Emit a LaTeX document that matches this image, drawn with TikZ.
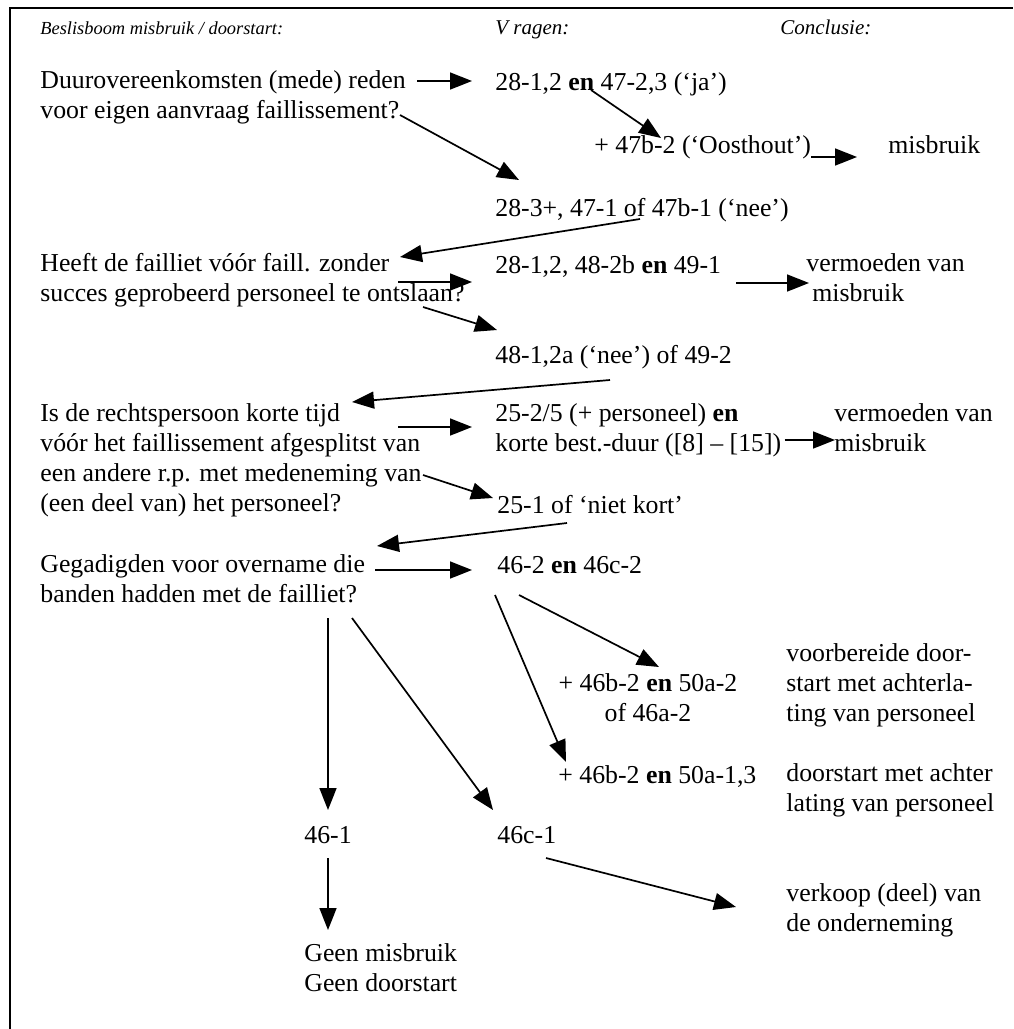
\documentclass[tikz,border=0pt]{standalone}
\usepackage{fontspec}
\setmainfont{Liberation Serif}
\usetikzlibrary{arrows.meta}
\begin{document}
\begin{tikzpicture}
    [
        x=0.5pt, y=-0.5pt,
        txt/.style={inner sep=0pt, anchor=west, align=left, font=\fontsize{12.9}{15}\selectfont,
            execute at begin node=\strut, execute at end node=\strut},
        hdr/.style={inner sep=0pt, anchor=base west, font=\fontsize{10.5}{13}\selectfont\itshape},
        arr/.style={-{Triangle[length=11pt,width=8.5pt]}, line width=0.85pt},
    ]
    \useasboundingbox (0,0) rectangle (1013,1029);
    \draw [line width=1pt] (10,1029) -- (10,8) -- (1013,8);
    % headings
    \node (hdA) at (40,34) [hdr, font=\fontsize{9.2}{11}\selectfont\itshape] {Beslisboom misbruik / doorstart:};
    \node (hdB) at (495,34) [hdr] {V ragen:};
    \node (hdC) at (780,34) [hdr] {Conclusie:};
    % questions
    \node (q1) at (40,99) [txt] {Duurovereenkomsten (mede) reden\\voor eigen aanvraag faillissement?};
    \node (q2) at (40,282) [txt] {Heeft de failliet vóór faill. zonder\\succes geprobeerd personeel te ontslaan?};
    \node (q3) at (40,462) [txt] {Is de rechtspersoon korte tijd\\vóór het faillissement afgesplitst van\\een andere r.p. met medeneming van\\(een deel van) het personeel?};
    \node (q4) at (40,583) [txt] {Gegadigden voor overname die\\banden hadden met de failliet?};
    % articles
    \node (v1a) at (495,84) [txt] {28-1,2 \textbf{en} 47-2,3 (‘ja’)};
    \node (v1b) at (594,147) [txt] {+ 47b-2 (‘Oosthout’)};
    \node (v1c) at (495,210) [txt] {28-3+, 47-1 of 47b-1 (‘nee’)};
    \node (v2a) at (495,267) [txt] {28-1,2, 48-2b \textbf{en} 49-1};
    \node (v2b) at (495,357) [txt] {48-1,2a (‘nee’) of 49-2};
    \node (v3a) at (495,432) [txt] {25-2/5 (+ personeel) \textbf{en}\\korte best.-duur ([8] – [15])};
    \node (v3b) at (497,507) [txt] {25-1 of ‘niet kort’};
    \node (v4a) at (497,567) [txt] {46-2 \textbf{en} 46c-2};
    \node (v4b) at (648,702) [txt, anchor=center, align=center] {+ 46b-2 \textbf{en} 50a-2\\of 46a-2};
    \node (v4c) at (558,777) [txt] {+ 46b-2 \textbf{en} 50a-1,3};
    \node (n461) at (304,837) [txt] {46-1};
    \node (n46c1) at (497,837) [txt] {46c-1};
    % conclusions
    \node (c1) at (888,147) [txt] {misbruik};
    \node (c2) at (806,282) [txt] {vermoeden van\\\hspace*{3pt}misbruik};
    \node (c3) at (834,432) [txt] {vermoeden van\\misbruik};
    \node (c4) at (786,687) [txt] {voorbereide door-\\start met achterla-\\ting van personeel};
    \node (c5) at (786,792) [txt] {doorstart met achter\\lating van personeel};
    \node (c6) at (786,912) [txt] {verkoop (deel) van\\de onderneming};
    \node (c7) at (304,972) [txt] {Geen misbruik\\Geen doorstart};
    % arrows
    \draw [arr] ([shift={(377,-18)}]q1.west) -- ([shift={(-23,-3)}]v1a.west);
    \draw [arr] ([shift={(96,6)}]v1a.west) -- ([shift={(67,-9)}]v1b.west);
    \draw [arr] ([shift={(217,10)}]v1b.west) -- ([shift={(-31,10)}]c1.west);
    \draw [arr] ([shift={(360,16)}]q1.west) -- ([shift={(24,-30)}]v1c.west);
    \draw [arr] ([shift={(145,9)}]v1c.west) -- ([shift={(360,-25)}]q2.west);
    \draw [arr] ([shift={(358,0)}]q2.west) -- ([shift={(-23,15)}]v2a.west);
    \draw [arr] ([shift={(383,25)}]q2.west) -- ([shift={(2,-27)}]v2b.west);
    \draw [arr] ([shift={(241,16)}]v2a.west) -- ([shift={(3,1)}]c2.west);
    \draw [arr] ([shift={(115,23)}]v2b.west) -- ([shift={(312,-60)}]q3.west);
    \draw [arr] ([shift={(358,-35)}]q3.west) -- ([shift={(-23,-5)}]v3a.west);
    \draw [arr] ([shift={(3,8)}]v3a.east) -- ([shift={(1,8)}]c3.west);
    \draw [arr] ([shift={(383,13)}]q3.west) -- ([shift={(-4,-9)}]v3b.west);
    \draw [arr] ([shift={(70,16)}]v3b.west) -- ([shift={(337,-37)}]q4.west);
    \draw [arr] ([shift={(335,-13)}]q4.west) -- ([shift={(-25,3)}]v4a.west);
    \draw [arr] ([shift={(22,28)}]v4a.west) -- ([shift={(11,-35)}]v4b.center);
    \draw [arr] ([shift={(-2,28)}]v4a.west) -- ([shift={(8,-15)}]v4c.west);
    \draw [arr] ([shift={(288,35)}]q4.west) -- ([shift={(24,-27)}]n461.west);
    \draw [arr] ([shift={(312,35)}]q4.west) -- ([shift={(-4,-27)}]n46c1.west);
    \draw [arr] ([shift={(24,21)}]n461.west) -- ([shift={(24,-42)}]c7.west);
    \draw [arr] ([shift={(49,21)}]n46c1.west) -- ([shift={(-50,-5)}]c6.west);
\end{tikzpicture}
\end{document}
